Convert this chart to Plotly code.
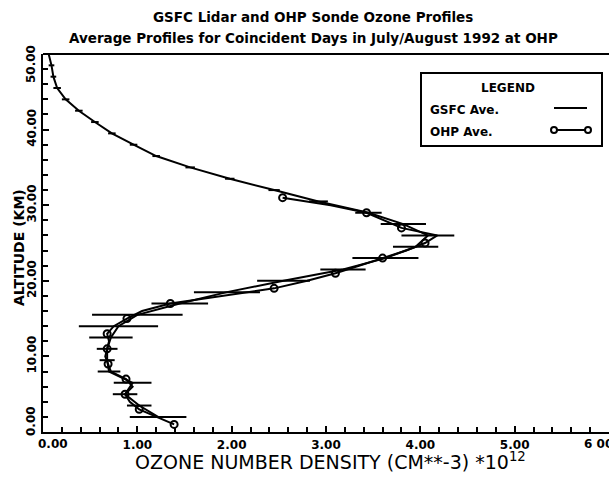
import plotly.graph_objects as go

# ---------------- data ----------------
gsfc_alt = [2.0, 3.5, 5.0, 6.5, 8.0, 9.5, 11.0, 12.5, 14.0, 15.5, 17.0, 18.5,
            20.0, 21.5, 23.0, 24.5, 26.0, 27.5, 29.0, 30.5, 32.0, 33.5, 35.0,
            36.5, 38.0, 39.5, 41.0, 42.5, 44.0, 45.5, 47.0, 48.5, 50.0]
gsfc_val = [1.22, 1.02, 0.87, 0.95, 0.70, 0.68, 0.68, 0.72, 0.80, 1.00, 1.45, 1.95,
            2.55, 3.18, 3.63, 3.95, 4.08, 3.82, 3.45, 2.92, 2.45, 1.98, 1.56,
            1.20, 0.96, 0.73, 0.55, 0.38, 0.24, 0.15, 0.11, 0.09, 0.06]
gsfc_err = [0.30, 0.13, 0.13, 0.20, 0.12, 0.08, 0.11, 0.23, 0.42, 0.48, 0.30, 0.35,
            0.28, 0.24, 0.35, 0.24, 0.28, 0.24, 0.14, 0.10, 0.06, 0.05, 0.05,
            0.04, 0.04, 0.04, 0.04, 0.04, 0.04, 0.04, 0.03, 0.03, 0.03]

ohp_alt = [1, 2, 3, 4, 5, 6, 7, 8, 9, 10, 11, 12, 13, 14, 15, 16,
           17, 18, 19, 20, 21, 22, 23, 24, 25, 26, 27, 28, 29, 30, 31]
ohp_val = [1.39, 1.20, 1.02, 0.92, 0.87, 0.95, 0.88, 0.72, 0.69, 0.66, 0.68, 0.70,
           0.68, 0.75, 0.89, 1.05, 1.35, 1.90, 2.45, 2.80, 3.10, 3.35, 3.60,
           3.85, 4.05, 4.18, 3.80, 3.62, 3.43, 3.05, 2.54]

x_ticks = [0, 1, 2, 3, 4, 5, 6]
x_ticklabels = ["0.00", "1.00", "2.00", "3.00", "4.00", "5.00", "6 00"]
y_ticks = [0, 10, 20, 30, 40, 50]
y_ticklabels = ["0.00", "10.00", "20.00", "30.00", "40.00", "50.00"]

title_lines = ["GSFC Lidar and OHP Sonde Ozone Profiles",
               "Average Profiles for Coincident Days in July/August 1992 at OHP"]
legend_title = "LEGEND"
series_names = ["GSFC Ave.", "OHP Ave."]

# ---------------- figure ----------------
W, H = 609, 477
ML, MR, MT, MB = 43, 0, 54, 45
PW, PH = W - ML - MR, H - MT - MB

def px(x):
    return (x - ML) / PW

def py(y):
    return (H - MB - y) / PH

FONT = "DejaVu Sans"

fig = go.Figure()

fig.add_trace(go.Scatter(
    x=gsfc_val, y=gsfc_alt, mode="lines", name=series_names[0],
    line=dict(color="black", width=2),
    error_x=dict(type="data", array=gsfc_err, visible=True,
                 color="black", thickness=2, width=0),
    showlegend=False, cliponaxis=False))

fig.add_trace(go.Scatter(
    x=ohp_val, y=ohp_alt, mode="lines", name=series_names[1],
    line=dict(color="black", width=2), showlegend=False))

fig.add_trace(go.Scatter(
    x=ohp_val[::2], y=ohp_alt[::2], mode="markers", name=series_names[1],
    marker=dict(symbol="circle-open", size=7, color="black",
                line=dict(width=2, color="black")),
    showlegend=False))

tickfont = dict(family=FONT, size=12, color="black", weight="bold")

# inner labels drawn by the axes; end labels placed as notes (offset like the original)
x_axis_text = [""] + x_ticklabels[1:-1] + [""]
y_axis_text = [""] + y_ticklabels[1:-1] + [""]

fig.update_layout(
    width=W, height=H,
    margin=dict(l=ML, r=MR, t=MT, b=MB, pad=0, autoexpand=False),
    paper_bgcolor="white", plot_bgcolor="white",
    showlegend=False,
    xaxis=dict(range=[0, 6], showgrid=False, zeroline=False, automargin=False,
               showline=True, linecolor="black", linewidth=2, mirror=False,
               tickmode="array", tickvals=x_ticks, ticktext=x_axis_text,
               ticks="inside", ticklen=6, tickwidth=2, tickcolor="black",
               minor=dict(dtick=0.2, tick0=0, ticks="inside", ticklen=5,
                          tickwidth=2, tickcolor="black"),
               tickfont=tickfont, ticklabelstandoff=1),
    yaxis=dict(range=[0, 50], showgrid=False, zeroline=False, automargin=False,
               showline=True, linecolor="black", linewidth=2,
               tickmode="array", tickvals=y_ticks, ticktext=y_axis_text,
               ticks="inside", ticklen=6, tickwidth=2, tickcolor="black",
               minor=dict(dtick=2, tick0=0, ticks="inside", ticklen=5,
                          tickwidth=2, tickcolor="black"),
               tickangle=-90, tickfont=tickfont, ticklabelstandoff=0),
    xaxis2=dict(overlaying="x", matches="x", anchor="y", side="bottom",
                automargin=False,
                tickmode="array", tickvals=x_ticks, showticklabels=False,
                ticks="outside", ticklen=5, tickwidth=2, tickcolor="black",
                showline=False, showgrid=False, zeroline=False),
    yaxis2=dict(overlaying="y", matches="y", anchor="x", side="left",
                automargin=False,
                tickmode="array", tickvals=y_ticks, showticklabels=False,
                ticks="outside", ticklen=5, tickwidth=2, tickcolor="black",
                showline=False, showgrid=False, zeroline=False),
)

# top border line
fig.add_shape(type="line", xref="paper", yref="paper", x0=0, x1=1.0, y0=1, y1=1,
              line=dict(color="black", width=2))

def note(text, x, y, size, bold=True, xanchor="center", angle=0):
    fig.add_annotation(text=text, xref="paper", yref="paper",
                       x=px(x), y=py(y), xanchor=xanchor, yanchor="middle",
                       showarrow=False, textangle=angle,
                       font=dict(family=FONT, size=size, color="black",
                                 weight="bold" if bold else "normal"))

# end tick labels
note(x_ticklabels[0], 53, 444, 12)
note(x_ticklabels[-1], 598, 444, 12)
note(y_ticklabels[0], 31, 421, 12, angle=-90)
note(y_ticklabels[-1], 31, 64, 12, angle=-90)

# titles
note(title_lines[0], 313, 17, 13.5)
note(title_lines[1], 313, 38, 13.5)

# axis titles
note("OZONE NUMBER DENSITY (CM**-3) *10<sup>12</sup>", 330, 461, 19, bold=False)
note("ALTITUDE (KM)", 19, 248, 14, angle=-90)

# legend box (manual, text left, sample right)
fig.add_shape(type="rect", xref="paper", yref="paper",
              x0=px(421), x1=px(602), y0=py(146), y1=py(73),
              line=dict(color="black", width=2), fillcolor="white")
note(legend_title, 508, 88, 12)
note(series_names[0], 428, 110, 12, xanchor="left")
note(series_names[1], 428, 132, 12, xanchor="left")
fig.add_shape(type="line", xref="paper", yref="paper",
              x0=px(554), x1=px(587), y0=py(108), y1=py(108),
              line=dict(color="black", width=2))
fig.add_shape(type="line", xref="paper", yref="paper",
              x0=px(554), x1=px(588), y0=py(130), y1=py(130),
              line=dict(color="black", width=2))
for cx in (554, 588):
    fig.add_shape(type="circle", xref="paper", yref="paper",
                  x0=px(cx - 3), x1=px(cx + 3), y0=py(133), y1=py(127),
                  line=dict(color="black", width=2), fillcolor="white")

fig.write_html("out.html", config={"displayModeBar": False},
               post_script="document.body.style.margin='0';document.body.style.padding='0';")
